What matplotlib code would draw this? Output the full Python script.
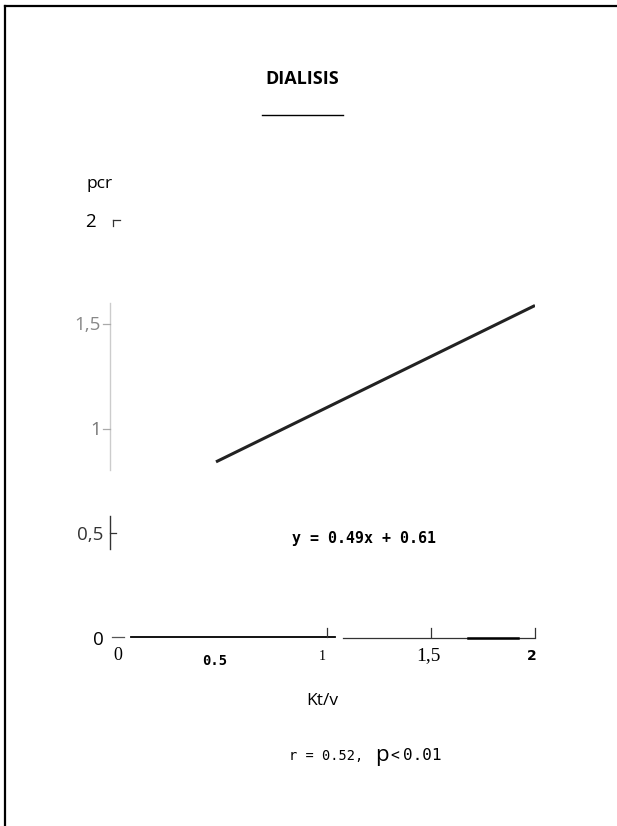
import matplotlib.pyplot as plt
from matplotlib.lines import Line2D

# regression line (Kt/v vs pcr)
kt_v = [0.47, 2.0]
pcr = [0.84, 1.59]

x_ticks = [0, 0.5, 1, 1.5, 2]
x_labels = ["0", "0.5", "1", "1,5", "2"]
y_ticks = [0, 0.5, 1, 1.5, 2]
y_labels = ["0", "0,5", "1", "1,5", "2"]

W, H = 617, 826
fig = plt.figure(figsize=(W / 100, H / 100), dpi=100)


def px(x, y):
    """pixel position (from top-left) to figure fraction"""
    return x / W, 1 - y / H


# axes placed so that (0,0) sits at px (118,637) and (2,2) at px (535,220)
x0, y0 = px(118, 637)
x1, y1 = px(535, 220)
ax = fig.add_axes([x0, y0, x1 - x0, y1 - y0])
ax.set_xlim(0, 2)
ax.set_ylim(0, 2)
for s in ax.spines.values():
    s.set_visible(False)
ax.set_xticks([])
ax.set_yticks([])

ax.plot(kt_v, pcr, color="#222222", linewidth=2.2, solid_capstyle="butt")

# broken axis pieces, like the pasted-up original
ax.plot([-0.04, -0.04], [0.8, 1.6], color="#cccccc", lw=1.0, clip_on=False)
ax.plot([-0.04, -0.04], [0.42, 0.58], color="#333333", lw=1.0, clip_on=False)
ax.plot([0.06, 1.04], [0, 0], color="black", lw=1.3, clip_on=False)
ax.plot([1.08, 2.0], [-0.005, -0.005], color="#333333", lw=0.9, clip_on=False)
ax.plot([1.68, 1.92], [-0.005, -0.005], color="black", lw=1.8, clip_on=False)

# tick marks
ax.plot([-0.07, -0.04], [1.5, 1.5], color="#aaaaaa", lw=0.9, clip_on=False)
ax.plot([-0.07, -0.04], [1.0, 1.0], color="#aaaaaa", lw=0.9, clip_on=False)
ax.plot([-0.04, -0.01], [0.5, 0.5], color="#333333", lw=0.9, clip_on=False)
ax.plot([-0.025, 0.01], [2.0, 2.0], color="#333333", lw=0.9, clip_on=False)
ax.plot([-0.025, -0.025], [1.97, 2.0], color="#333333", lw=0.9, clip_on=False)
ax.plot([-0.03, 0.03], [0.0, 0.0], color="#555555", lw=0.9, clip_on=False)
for t in [1.0, 1.5, 2.0]:
    ax.plot([t, t], [0, 0.045], color="#333333", lw=0.9, clip_on=False)

# y tick labels
y_label_px = [(104, 640), (103, 535), (101, 430), (101, 325), (96, 222)]
y_label_col = ["black", "#333333", "#777777", "#888888", "black"]
for lab, (lx, ly), c in zip(y_labels, y_label_px, y_label_col):
    fig.text(*px(lx, ly), lab, ha="right", va="center", fontsize=13.5,
             family="Open Sans", color=c)

# x tick labels, each one in a different type as in the scan
x_label_px = [(118, 656), (215, 661), (322, 657), (428, 656), (532, 656)]
x_label_font = [
    dict(family="Liberation Serif", fontsize=13),
    dict(family="DejaVu Sans Mono", fontsize=10, fontweight="bold"),
    dict(family="Liberation Serif", fontsize=10),
    dict(family="Liberation Serif", fontsize=14),
    dict(family="DejaVu Sans", fontsize=10, fontweight="bold"),
]
for lab, (lx, ly), f in zip(x_labels, x_label_px, x_label_font):
    fig.text(*px(lx, ly), lab, ha="center", va="center", **f)

# title and underline
fig.text(*px(302, 79), "DIALISIS", ha="center", va="center", fontsize=13,
         fontweight="bold", family="Open Sans")
fig.add_artist(Line2D([262 / W, 343 / W], [1 - 115 / H, 1 - 115 / H],
                      color="black", lw=1.0))

# frame edges left by the scan
fig.add_artist(Line2D([5 / W, 5 / W], [0, 1 - 6 / H], color="black", lw=1.6))
fig.add_artist(Line2D([5 / W, 1], [1 - 6 / H, 1 - 6 / H], color="black", lw=1.6))

fig.text(*px(100, 184), "pcr", ha="center", va="center", fontsize=12.5,
         family="Open Sans")
fig.text(*px(322, 701), "Kt/v", ha="center", va="center", fontsize=12.5,
         family="Open Sans")

fig.text(*px(364, 538), "y = 0.49x + 0.61", ha="center", va="center",
         fontsize=10.8, family="DejaVu Sans Mono", fontweight="bold")

fig.text(*px(289, 756), "r = 0.52,", ha="left", va="center", fontsize=9.8,
         family="DejaVu Sans Mono")
fig.text(*px(375, 755), "p", ha="left", va="center", fontsize=16,
         family="Open Sans")
fig.text(*px(390, 756), "<", ha="left", va="center", fontsize=10.5,
         family="DejaVu Sans Mono")
fig.text(*px(403, 756), "0.01", ha="left", va="center", fontsize=11.5,
         family="DejaVu Sans Mono")

fig.savefig("out.png", dpi=100)
